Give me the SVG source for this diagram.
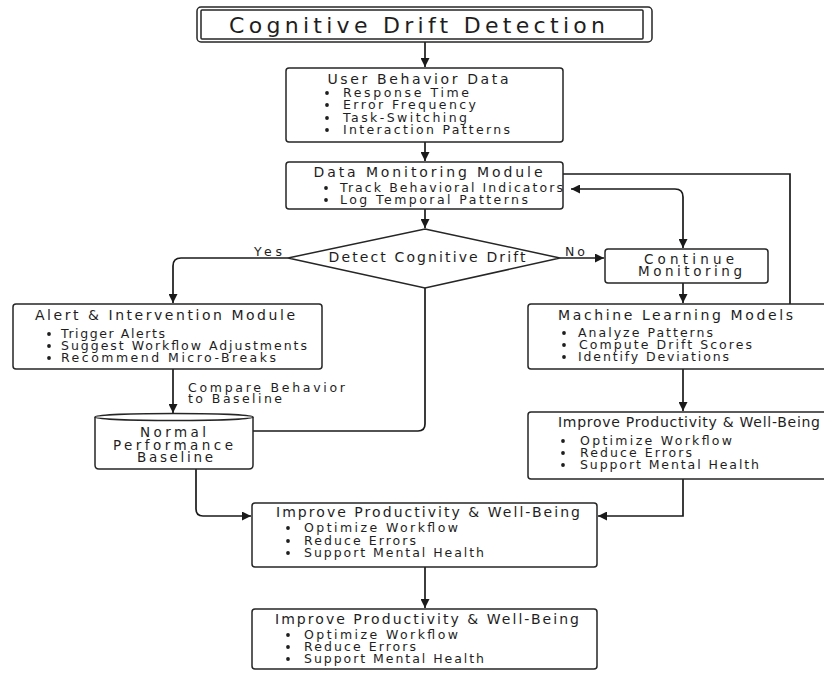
<svg xmlns="http://www.w3.org/2000/svg" width="824" height="673" viewBox="0 0 824 673">
<defs>
<marker id="arr" viewBox="0 0 10 10" refX="10" refY="5" markerWidth="9" markerHeight="9" markerUnits="userSpaceOnUse" orient="auto-start-reverse">
<path d="M0,0 L10,5 L0,10 Z" fill="#1a1a1a"/>
</marker>
<style>
.box{fill:#fff;stroke:#262626;stroke-width:1.5}
.ln{fill:none;stroke:#1a1a1a;stroke-width:1.7}
text{font-family:"DejaVu Sans","Open Sans",sans-serif;fill:#1e1e1e}
.t{font-size:14px;text-anchor:middle}
.b{font-size:12.5px}
.l{font-size:12.5px}
.dot{fill:#1e1e1e}
</style>
</defs>
<rect width="824" height="673" fill="#fff"/>

<g id="connectors">
<path class="ln" d="M425,42 V67" marker-end="url(#arr)"/>
<path class="ln" d="M425,142 V161" marker-end="url(#arr)"/>
<path class="ln" d="M425,209 V228" marker-end="url(#arr)"/>
<path class="ln" d="M288,258 H181 Q173,258 173,266 V303" marker-end="url(#arr)"/>
<path class="ln" d="M560,258 H604" marker-end="url(#arr)"/>
<path class="ln" d="M425,288 V424 Q425,431 418,431 H253"/>
<path class="ln" d="M173,369 V413" marker-end="url(#arr)"/>
<path class="ln" d="M196,469 V509 Q196,516 203,516 H251" marker-end="url(#arr)"/>
<path class="ln" d="M563,174 H790 V304"/>
<path class="ln" d="M571,189 H675 Q683,189 683,197 V248" marker-start="url(#arr)" marker-end="url(#arr)"/>
<path class="ln" d="M683,283 V303" marker-end="url(#arr)"/>
<path class="ln" d="M683,369 V411" marker-end="url(#arr)"/>
<path class="ln" d="M683,479 V516 H598" marker-end="url(#arr)"/>
<path class="ln" d="M425,567 V608" marker-end="url(#arr)"/>
<text class="l" x="254" y="256" textLength="28">Yes</text>
<text class="l" x="565" y="256" textLength="20">No</text>
<text class="l" x="188" y="392" textLength="157">Compare Behavior</text>
<text class="l" x="188" y="403" textLength="94">to Baseline</text>
</g>

<g id="title">
<rect x="197" y="7" width="455" height="35" rx="4" fill="#fff" stroke="#262626" stroke-width="1.5"/>
<rect x="201" y="10" width="442" height="29" rx="1" fill="none" stroke="#262626" stroke-width="1.5"/>
<text x="417" y="33" font-size="22" text-anchor="middle" textLength="376">Cognitive Drift Detection</text>
</g>

<g id="user-behavior-data">
<rect class="box" x="286" y="68" width="277" height="74" rx="3"/>
<text class="t" x="418" y="84" textLength="181">User Behavior Data</text>
<circle class="dot" cx="327" cy="93" r="1.9"/><text class="b" x="343" y="97" textLength="126">Response Time</text>
<circle class="dot" cx="327" cy="105" r="1.9"/><text class="b" x="343" y="109" textLength="133">Error Frequency</text>
<circle class="dot" cx="327" cy="118" r="1.9"/><text class="b" x="343" y="122" textLength="124">Task-Switching</text>
<circle class="dot" cx="327" cy="130" r="1.9"/><text class="b" x="343" y="134" textLength="167">Interaction Patterns</text>
</g>

<g id="data-monitoring">
<rect class="box" x="286" y="162" width="277" height="47" rx="3"/>
<text class="t" x="428" y="177" textLength="229">Data Monitoring Module</text>
<circle class="dot" cx="326" cy="188" r="1.9"/><text class="b" x="340" y="192" textLength="223">Track Behavioral Indicators</text>
<circle class="dot" cx="326" cy="200" r="1.9"/><text class="b" x="340" y="204" textLength="188">Log Temporal Patterns</text>
</g>

<g id="detect-drift">
<polygon class="box" points="425,229 560,258 425,288 288,258"/>
<text class="t" x="427" y="262" textLength="197">Detect Cognitive Drift</text>
</g>

<g id="continue-monitoring">
<rect class="box" x="605" y="249" width="163" height="34" rx="3"/>
<text x="689" y="264" font-size="13.5" text-anchor="middle" textLength="90">Continue</text>
<text x="690" y="275.5" font-size="13.5" text-anchor="middle" textLength="104">Monitoring</text>
</g>

<g id="alert-intervention">
<rect class="box" x="13" y="304" width="309" height="65" rx="3"/>
<text class="t" x="165" y="320" textLength="260">Alert &amp; Intervention Module</text>
<circle class="dot" cx="49" cy="334" r="1.9"/><text class="b" x="61" y="338" textLength="104">Trigger Alerts</text>
<circle class="dot" cx="49" cy="346" r="1.9"/><text class="b" x="61" y="350" textLength="246">Suggest Workflow Adjustments</text>
<circle class="dot" cx="49" cy="358" r="1.9"/><text class="b" x="61" y="362" textLength="215">Recommend Micro-Breaks</text>
</g>

<g id="baseline">
<path class="box" d="M95,417 V465 Q95,469 99,469 H249 Q253,469 253,465 V417"/>
<ellipse cx="174" cy="417" rx="79" ry="3.5" fill="#fff" stroke="#262626" stroke-width="1.5"/>
<text x="173" y="437" font-size="13.5" text-anchor="middle" textLength="66">Normal</text>
<text x="173" y="450" font-size="13.5" text-anchor="middle" textLength="120">Performance</text>
<text x="175" y="461.5" font-size="13.5" text-anchor="middle" textLength="76">Baseline</text>
</g>

<g id="ml-models">
<rect class="box" x="528" y="304" width="310" height="65" rx="3"/>
<text class="t" x="675.5" y="320" textLength="235">Machine Learning Models</text>
<circle class="dot" cx="564" cy="333" r="1.9"/><text class="b" x="578" y="337" textLength="135">Analyze Patterns</text>
<circle class="dot" cx="564" cy="345" r="1.9"/><text class="b" x="579" y="349" textLength="173">Compute Drift Scores</text>
<circle class="dot" cx="564" cy="357" r="1.9"/><text class="b" x="578" y="361" textLength="151">Identify Deviations</text>
</g>

<g id="improve-right">
<rect class="box" x="528" y="412" width="310" height="67" rx="3"/>
<text class="t" x="689" y="427" font-size="13" textLength="262">Improve Productivity &amp; Well-Being</text>
<circle class="dot" cx="563" cy="441" r="1.9"/><text class="b" x="580" y="445" textLength="152">Optimize Workflow</text>
<circle class="dot" cx="563" cy="453" r="1.9"/><text class="b" x="580" y="457" textLength="112">Reduce Errors</text>
<circle class="dot" cx="563" cy="465" r="1.9"/><text class="b" x="580" y="469" textLength="179">Support Mental Health</text>
</g>

<g id="improve-middle">
<rect class="box" x="252" y="503" width="345" height="64" rx="3"/>
<text class="t" x="428" y="517" textLength="304">Improve Productivity &amp; Well-Being</text>
<circle class="dot" cx="288" cy="528" r="1.9"/><text class="b" x="304" y="532" textLength="154">Optimize Workflow</text>
<circle class="dot" cx="288" cy="541" r="1.9"/><text class="b" x="304" y="545" textLength="112">Reduce Errors</text>
<circle class="dot" cx="288" cy="553" r="1.9"/><text class="b" x="304" y="557" textLength="180">Support Mental Health</text>
</g>

<g id="improve-bottom">
<rect class="box" x="252" y="609" width="345" height="60" rx="3"/>
<text class="t" x="427" y="624" textLength="304">Improve Productivity &amp; Well-Being</text>
<circle class="dot" cx="288" cy="635" r="1.9"/><text class="b" x="304" y="639" textLength="154">Optimize Workflow</text>
<circle class="dot" cx="288" cy="647" r="1.9"/><text class="b" x="304" y="651" textLength="112">Reduce Errors</text>
<circle class="dot" cx="288" cy="659" r="1.9"/><text class="b" x="304" y="663" textLength="180">Support Mental Health</text>
</g>
</svg>
